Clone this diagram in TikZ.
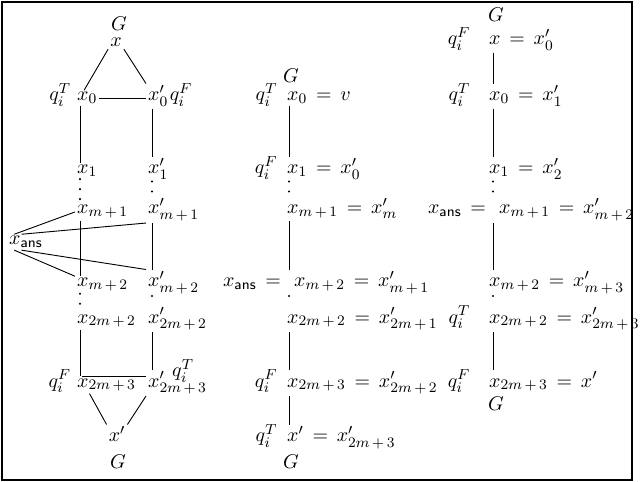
\documentclass[tikz,border=0pt]{standalone}
\usepackage{amsmath}
\usetikzlibrary{positioning}

\begin{document}
\thickmuskip=8mu
\begin{tikzpicture}[x=0.55pt,y=-0.55pt,font=\fontsize{11}{13}\selectfont,
	var/.style={anchor=base west,inner sep=1pt},
	tag/.style={anchor=base east,inner sep=1pt},
	link/.style={line width=0.5pt},
	dots/.style={line width=1.3pt,line cap=round,dash pattern=on 0pt off 5.5pt}]
	\useasboundingbox (0,0) rectangle (640,482);
	\draw[line width=0.8pt] (2,2) rectangle (632,480);
	\coordinate (cola) at (80,0);
	\coordinate (colb) at (152,0);
	\coordinate (colc) at (289,0);
	\coordinate (cold) at (493,0);
	
	% two chains
	\foreach \Y/\X [count=\N from 0] in {101/0,174/1,214/{m\,+\,1},287/{m\,+\,2},323/{2m\,+\,2},387/{2m\,+\,3}}
	{\node[var] (a\N) at (75,\Y) {$x_{\X}$};
		\node[var] (b\N) at (146,\Y) {$x'_{\X}$};}
	\node[inner sep=1pt,anchor=base] (top) at (116,47) {$x$};
	\node[anchor=base] (gtop) at (119,31) {$G$};
	\node[inner sep=1pt,anchor=base] (bot) at (117,442) {$x'$};
	\node[anchor=base] (gbot) at (118,469) {$G$};
	\node[var] (ans) at (7,245) {$x_{\mathsf{ans}}$};
	\node[tag] (qa0) at ([xshift=-1pt]a0.base west) {$q_i^T$};
	\node[var] (qb0) at ([xshift=-1.5pt]b0.base east) {$q_i^F$};
	\node[tag] (qa5) at ([xshift=-1pt]a5.base west) {$q_i^F$};
	\node[var] (qb5) at (170,377) {$q_i^T$};
	
	\draw[link] (top.south west) -- ([xshift=5pt]a0.north west);
	\draw[link] (top.south east) -- (b0.north west);
	\draw[link] (a0.east) -- (a0.east -| b0.west);
	\draw[link] ([xshift=4pt]a5.north west) -- (a5.north west -| b5.west);
	\draw[link] ([xshift=8pt]a5.south west) -- (bot.north west);
	\draw[link] (b5.south west) -- (bot.north east);
	\foreach \S/\T in {0/1,2/3,4/5}
	{\draw[link] (a\S.south -| cola) -- (a\T.north -| cola);
		\draw[link] (b\S.south -| colb) -- (b\T.north -| colb);}
	\foreach \S/\T in {1/2,3/4}
	{\draw[dots] (a\S.south -| cola) -- (a\T.north -| cola);
		\draw[dots] (b\S.south -| colb) -- (b\T.north -| colb);}
	\draw[link] ([xshift=4pt]ans.north west) -- (a2.west);
	\draw[link] ([xshift=8pt]ans.north west) -- (b2.south west);
	\draw[link] ([xshift=4pt]ans.south west) -- (a3.north west);
	\draw[link] ([xshift=8pt]ans.south west) -- (b3.north west);
	
	% merged chain
	\foreach \Y/\X/\D [count=\N from 0] in {101/{x_0 = v}/0,174/{x_1 = x'_0}/0,214/{x_{m\,+\,1} = x'_m}/0,
		287/{x_{m\,+\,2} = x'_{m\,+\,1}}/7,323/{x_{2m\,+\,2} = x'_{2m\,+\,1}}/0,
		387/{x_{2m\,+\,3} = x'_{2m\,+\,2}}/0,442/{x' = x'_{2m\,+\,3}}/0}
	{\node[var] (c\N) at (285+\D,\Y) {$\X$};}
	\node[anchor=base] (gc0) at (291,83) {$G$};
	\node[anchor=base] (gc6) at (291,469) {$G$};
	\node[tag] (qc0) at ([xshift=-3pt]c0.base west) {$q_i^T$};
	\node[tag] (qc1) at ([xshift=-3pt]c1.base west) {$q_i^F$};
	\node[tag] (qc5) at ([xshift=-3pt]c5.base west) {$q_i^F$};
	\node[tag] (qc6) at ([xshift=-3pt]c6.base west) {$q_i^T$};
	\node[tag] (ansc) at (c3.base west) {$x_{\mathsf{ans}} ={}$};
	\foreach \S/\T in {0/1,2/3,4/5,5/6}
	\draw[link] (c\S.south -| colc) -- (c\T.north -| colc);
	\foreach \S/\T in {1/2,3/4}
	\draw[dots] (c\S.south -| colc) -- (c\T.north -| colc);
	
	% shifted chain
	\foreach \Y/\X/\D [count=\N from 0] in {45/{x = x'_0}/0,101/{x_0 = x'_1}/0,174/{x_1 = x'_2}/0,
		214/{x_{m\,+\,1} = x'_{m\,+\,2}}/10,287/{x_{m\,+\,2} = x'_{m\,+\,3}}/0,
		323/{x_{2m\,+\,2} = x'_{2m\,+\,3}}/0,387/{x_{2m\,+\,3} = x'}/0}
	{\node[var] (d\N) at (487+\D,\Y) {$\X$};}
	\node[anchor=base] (gd0) at (496,22) {$G$};
	\node[anchor=base] (gd6) at (496,410) {$G$};
	\node[tag] (qd0) at ([xshift=-8pt]d0.base west) {$q_i^F$};
	\node[tag] (qd1) at ([xshift=-8pt]d1.base west) {$q_i^T$};
	\node[tag] (qd5) at ([xshift=-8pt]d5.base west) {$q_i^T$};
	\node[tag] (qd6) at ([xshift=-8pt]d6.base west) {$q_i^F$};
	\node[tag] (ansd) at (d3.base west) {$x_{\mathsf{ans}} ={}$};
	\foreach \S/\T in {0/1,1/2,3/4,5/6}
	\draw[link] (d\S.south -| cold) -- (d\T.north -| cold);
	\foreach \S/\T in {2/3,4/5}
	\draw[dots] (d\S.south -| cold) -- (d\T.north -| cold);
\end{tikzpicture}
\end{document}
